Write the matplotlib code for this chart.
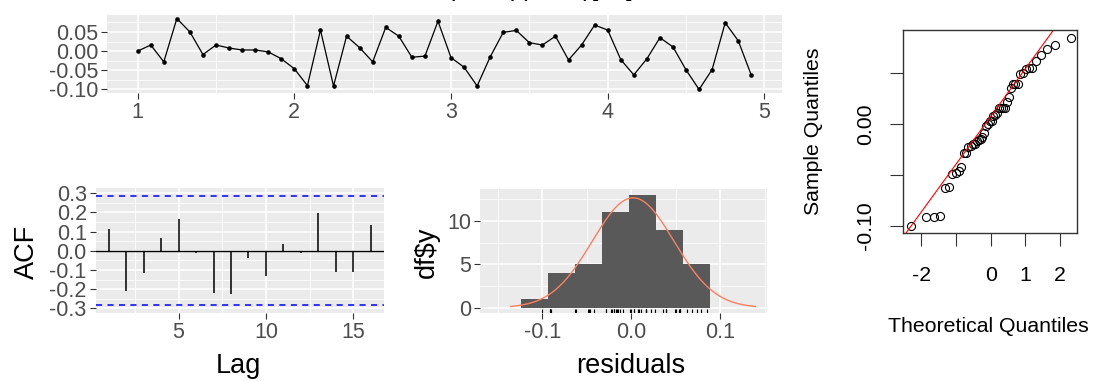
import numpy as np
import matplotlib
matplotlib.use("Agg")
import matplotlib.pyplot as plt
from matplotlib.ticker import MultipleLocator, FormatStrFormatter
from statistics import NormalDist

plt.rcParams['font.family'] = ['Liberation Sans', 'DejaVu Sans']
plt.rcParams['axes.unicode_minus'] = False

# residuals, monthly, starting at time 1
residuals = [0.000, 0.016, -0.028, 0.085, 0.050, -0.009, 0.016, 0.008, 0.003, 0.003, -0.002, -0.020,
             -0.046, -0.090, 0.055, -0.091, 0.039, 0.009, -0.028, 0.062, 0.039, -0.016, -0.013, 0.078,
             -0.017, -0.042, -0.091, -0.015, 0.049, 0.054, 0.022, 0.016, 0.039, -0.023, 0.016, 0.068,
             0.055, -0.022, -0.062, -0.020, 0.035, 0.011, -0.049, -0.100, -0.048, 0.074, 0.027, -0.063]
start_time = 1
frequency = 12

# autocorrelation of the residuals
acf_lags = list(range(1, 17))
acf_values = [0.111, -0.207, -0.113, 0.064, 0.163, -0.014, -0.219, -0.226,
              -0.040, -0.132, 0.035, -0.014, 0.195, -0.110, -0.110, 0.134]

# histogram bins and the fitted normal curve
bin_start = -0.1234
bin_width = 0.0303
n_bins = 7
normal_mean = 0.002
normal_sd = 0.0458

title = "Residuals from ARIMA(0,1,1)(0,1,1)[12]"

W, H = 1093, 381
fig = plt.figure(figsize=(W / 100, H / 100), dpi=100)

TICK_SIZE = 15.5
TITLE_SIZE = 19.5
QQ_SIZE = 15.3


def box(l, t, r, b):
    return [l / W, 1 - b / H, (r - l) / W, (b - t) / H]


def gg_style(ax):
    ax.set_facecolor('#EBEBEB')
    for s in ax.spines.values():
        s.set_visible(False)
    ax.grid(which='major', color='white', lw=1.1)
    ax.grid(which='minor', color='white', lw=0.55)
    ax.set_axisbelow(True)
    ax.tick_params(which='major', length=4.3, width=0.8, color='#333333',
                   labelcolor='#4D4D4D', labelsize=TICK_SIZE, pad=2)
    ax.tick_params(which='minor', length=0)


res = np.array(residuals)
n = len(res)
t = start_time + np.arange(n) / frequency

# --- time plot ---
ax_ts = fig.add_axes(box(107, 15, 782, 93))
gg_style(ax_ts)
ax_ts.plot(t, res, color='black', lw=0.9, marker='o', ms=2.3)
xr = t[-1] - t[0]
ax_ts.set_xlim(t[0] - 0.05 * xr, t[-1] + 0.05 * xr)
yr = res.max() - res.min()
ax_ts.set_ylim(res.min() - 0.05 * yr, res.max() + 0.05 * yr)
ax_ts.xaxis.set_major_locator(MultipleLocator(1))
ax_ts.xaxis.set_minor_locator(MultipleLocator(0.5))
ax_ts.yaxis.set_major_locator(MultipleLocator(0.05))
ax_ts.yaxis.set_minor_locator(MultipleLocator(0.025))
ax_ts.yaxis.set_major_formatter(FormatStrFormatter('%.2f'))
ax_ts.xaxis.set_major_formatter(FormatStrFormatter('%d'))

# the title sits mostly above the top edge, as in the original export
fig.text(633 / W, 1 + 3.6 / H, title, ha='right', va='baseline', fontsize=18)

# --- ACF ---
ax_acf = fig.add_axes(box(95.5, 188.3, 384, 313.3))
gg_style(ax_acf)
ci = 1.96 / np.sqrt(n)
ax_acf.axhline(0, color='black', lw=1.0)
ax_acf.vlines(acf_lags, 0, acf_values, color='black', lw=1.1)
for c in (ci, -ci):
    ax_acf.axhline(c, color='blue', lw=1.1, ls=(0, (4, 3.5)))
ax_acf.set_xlim(0.25, 16.75)
ax_acf.set_ylim(-0.325, 0.325)
ax_acf.xaxis.set_major_locator(MultipleLocator(5))
ax_acf.xaxis.set_minor_locator(MultipleLocator(2.5))
ax_acf.yaxis.set_major_locator(MultipleLocator(0.1))
ax_acf.yaxis.set_minor_locator(MultipleLocator(0.05))
ax_acf.yaxis.set_major_formatter(FormatStrFormatter('%.1f'))
ax_acf.xaxis.set_major_formatter(FormatStrFormatter('%d'))
fig.text(26.7 / W, 1 - 252 / H, "ACF", rotation=90, ha='center', va='center', fontsize=TITLE_SIZE)
fig.text(238 / W, 1 - 373 / H, "Lag", ha='center', va='baseline', fontsize=TITLE_SIZE)

# --- histogram ---
ax_h = fig.add_axes(box(480, 189.3, 766.7, 313.3))
gg_style(ax_h)
edges = bin_start + bin_width * np.arange(n_bins + 1)
ax_h.hist(res, bins=edges, color='#595959')
nd = NormalDist(normal_mean, normal_sd)
xs = np.linspace(normal_mean - 3 * normal_sd, normal_mean + 3 * normal_sd, 200)
dens = np.array([nd.pdf(v) for v in xs]) * n * bin_width
ax_h.plot(xs, dens, color='#FA8060', lw=1.0)
ax_h.vlines(res, 0, 0.035, transform=ax_h.get_xaxis_transform(), color='black', lw=0.8)
ax_h.set_xlim(-0.17, 0.152)
ax_h.set_ylim(-0.65, 13.65)
ax_h.xaxis.set_major_locator(MultipleLocator(0.1))
ax_h.xaxis.set_minor_locator(MultipleLocator(0.05))
ax_h.yaxis.set_major_locator(MultipleLocator(5))
ax_h.yaxis.set_minor_locator(MultipleLocator(2.5))
ax_h.xaxis.set_major_formatter(FormatStrFormatter('%.1f'))
ax_h.yaxis.set_major_formatter(FormatStrFormatter('%d'))
fig.text(426.7 / W, 1 - 252 / H, "df$y", rotation=90, ha='center', va='center', fontsize=TITLE_SIZE)
fig.text(630.7 / W, 1 - 373 / H, "residuals", ha='center', va='baseline', fontsize=TITLE_SIZE)

# --- normal QQ plot ---
ax_qq = fig.add_axes(box(903.3, 30, 1077.3, 233.3))
theo = np.array([NormalDist().inv_cdf((i - 0.5) / n) for i in range(1, n + 1)])
samp = np.sort(res)
ax_qq.plot(theo, samp, ls='none', marker='o', ms=5.8, mfc='none', mec='black', mew=0.8)
yq = np.percentile(res, [25, 75])
xq = np.array([NormalDist().inv_cdf(0.25), NormalDist().inv_cdf(0.75)])
slope = (yq[1] - yq[0]) / (xq[1] - xq[0])
ax_qq.axline((xq[0], yq[0]), slope=slope, color='red', lw=0.8)
ax_qq.set_xlim(-2.52, 2.5)
sr = samp[-1] - samp[0]
ax_qq.set_ylim(samp[0] - 0.04 * sr, samp[-1] + 0.04 * sr)
ax_qq.set_xticks([-2, -1, 0, 1, 2])
ax_qq.set_xticklabels(['-2', '', '0', '1', '2'])
ax_qq.set_yticks([-0.10, -0.05, 0.00, 0.05])
ax_qq.set_yticklabels(['-0.10', '', '0.00', ''], rotation=90, va='center')
for s in ax_qq.spines.values():
    s.set_color('#333333')
    s.set_linewidth(1.0)
ax_qq.tick_params(length=9.4, width=0.8, color='#333333', labelcolor='black', labelsize=QQ_SIZE)
ax_qq.tick_params(axis='x', pad=14)
ax_qq.tick_params(axis='y', pad=11)
fig.text(813.3 / W, 1 - 131.7 / H, "Sample Quantiles", rotation=90, ha='center', va='center', fontsize=QQ_SIZE)
fig.text(988.3 / W, 1 - 326.7 / H, "Theoretical Quantiles", ha='center', va='center', fontsize=QQ_SIZE)

fig.savefig("out.png", dpi=100)
